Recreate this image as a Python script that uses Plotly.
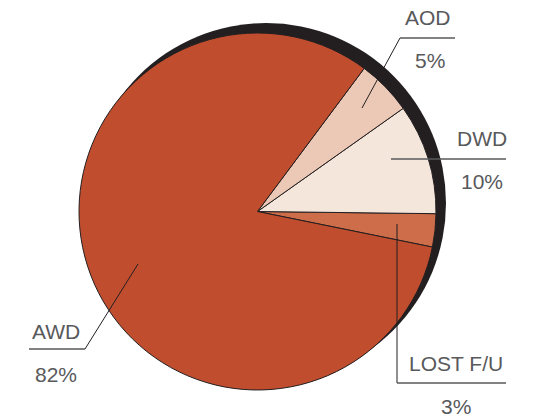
import plotly.graph_objects as go

labels = ["LOST F/U", "DWD", "AOD", "AWD"]
values = [3, 10, 5, 82]
pct_text = ["3%", "10%", "5%", "82%"]
colors = ["#cd6d4a", "#f5e6dc", "#ecc9b6", "#c04d2e"]

# the page body has an 8px margin; work in window pixels and convert
OFF = 8
W, H = 537 - OFF, 419 - OFF
def px(x): return (x - OFF) / W
def py(y): return 1 - (y - OFF) / H

TEXT = "#58595b"
DARK = "#231f20"
FONT = "Liberation Sans, Arial, Helvetica, sans-serif"

fig = go.Figure()
fig.add_trace(go.Pie(
    labels=labels, values=values, sort=False, direction="counterclockwise",
    rotation=90.7, textinfo="none", hoverinfo="label+percent",
    marker=dict(colors=colors, line=dict(color=DARK, width=1)),
    domain=dict(x=[px(79), px(436)], y=[py(390), py(33)]),
    showlegend=False,
))

shapes = []
# shadow disc behind the pie
cx, cy, r = 266, 203, 180
shapes.append(dict(type="circle", xref="paper", yref="paper", layer="below",
                   x0=px(cx - r), x1=px(cx + r), y0=py(cy + r), y1=py(cy - r),
                   fillcolor=DARK, line=dict(width=0)))

def line(x0, y0, x1, y1, color=DARK, width=1):
    shapes.append(dict(type="line", xref="paper", yref="paper",
                       x0=px(x0), y0=py(y0), x1=px(x1), y1=py(y1),
                       line=dict(color=color, width=width)))

# AOD
line(362, 108, 400, 38)
line(400, 38, 455, 38, TEXT, 1.5)
# DWD
line(391, 159, 506, 159, TEXT, 1.5)
# LOST F/U
line(397, 224, 397, 383)
line(397, 383, 506, 383, TEXT, 1.5)
# AWD
line(138, 264, 85, 349)
line(29, 349, 85, 349, TEXT, 1.5)

fig.update_layout(shapes=shapes)

label_pos = {
    "AOD": ((428, 18), (430, 60)),
    "DWD": ((482, 139), (482, 181)),
    "LOST F/U": ((456, 363), (456, 406)),
    "AWD": ((56, 331), (56, 374)),
}
for lab, pt in zip(labels, pct_text):
    (lx, ly), (tx, ty) = label_pos[lab]
    fig.add_annotation(x=px(lx), y=py(ly), xref="paper", yref="paper", text=lab,
                       showarrow=False, xanchor="center", yanchor="middle",
                       borderpad=0, font=dict(family=FONT, size=21, color=TEXT))
    fig.add_annotation(x=px(tx), y=py(ty), xref="paper", yref="paper", text=pt,
                       showarrow=False, xanchor="center", yanchor="middle",
                       borderpad=0, font=dict(family=FONT, size=21, color=TEXT))

fig.update_layout(width=W, height=H, margin=dict(l=0, r=0, t=0, b=0),
                  paper_bgcolor="white", plot_bgcolor="white")
fig.write_html("out.html")
